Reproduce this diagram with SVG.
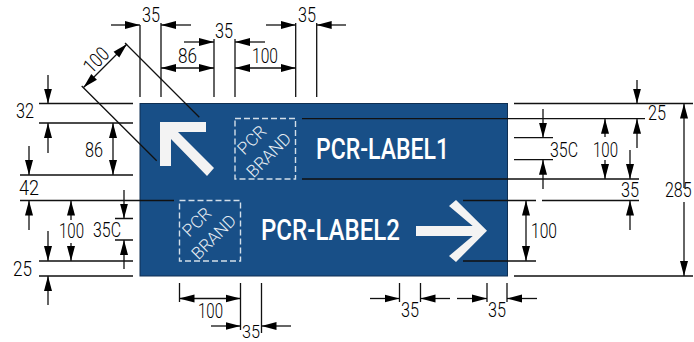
<svg xmlns="http://www.w3.org/2000/svg" width="694" height="342" viewBox="0 0 694 342">
<style>
.l{stroke:#111;stroke-width:1.3;fill:none}
.a{stroke:#111;stroke-width:1.3;fill:none;marker-end:url(#h)}
.b{stroke:#111;stroke-width:1.3;fill:none;marker-start:url(#s);marker-end:url(#h)}
.t{font-family:Roboto,"Liberation Sans",Arial,sans-serif;font-weight:300;font-size:20px;fill:#000}
.s{font-family:Roboto,"Liberation Sans",Arial,sans-serif;font-size:29px;font-weight:500;fill:#fff}
.br{font-family:Roboto,"Liberation Sans",Arial,sans-serif;font-weight:300;font-size:17px;fill:#e8eef4;text-anchor:middle}
.box{fill:none;stroke:#d3dfe9;stroke-width:1.4;stroke-dasharray:6 3}
.w{fill:#f3f3f3}
</style>
<defs>
<marker id="h" markerUnits="userSpaceOnUse" markerWidth="16" markerHeight="10" refX="15" refY="5" orient="auto"><path d="M0 1L15 5L0 9Z" fill="#000"/></marker>
<marker id="s" markerUnits="userSpaceOnUse" markerWidth="16" markerHeight="10" refX="0" refY="5" orient="auto"><path d="M15 1L0 5L15 9Z" fill="#000"/></marker>
</defs>
<g id="sign">
<rect x="140" y="103.5" width="367.5" height="172.5" fill="#184f87" stroke="#0f2f52" stroke-width="1"/>
<text class="s" x="316" y="159" textLength="133" lengthAdjust="spacingAndGlyphs">PCR-LABEL1</text>
<text class="s" x="261" y="240" textLength="139" lengthAdjust="spacingAndGlyphs">PCR-LABEL2</text>
</g>
<g id="arrow-nw"><path class="w" d="M160 122H206V132H178L214 168L207 176L171 139V166H160Z"/></g>
<g id="arrow-e"><path class="w" d="M416 226H472.700L449 206L456 200L487 230.700L456 262L449 256L472.700 236H416Z"/></g>
<g id="brand1">
<rect class="box" x="235" y="118.500" width="60.500" height="60.500"/>
<text class="br" transform="translate(256 144) rotate(-45)" textLength="33" lengthAdjust="spacingAndGlyphs">PCR</text>
<text class="br" transform="translate(273 159) rotate(-45)" textLength="55" lengthAdjust="spacingAndGlyphs">BRAND</text>
</g>
<g id="brand2">
<rect class="box" x="179.500" y="200.500" width="61" height="60.500"/>
<text class="br" transform="translate(201 226) rotate(-45)" textLength="33" lengthAdjust="spacingAndGlyphs">PCR</text>
<text class="br" transform="translate(218 241) rotate(-45)" textLength="55" lengthAdjust="spacingAndGlyphs">BRAND</text>
</g>
<g id="connectors">
<path class="l" d="M140 25V97M161 23V97M214 39V97M235 39V97M295.700 23V97M316.700 23V97"/>
<path class="a" d="M111 25H140"/><path class="a" d="M191 25H161"/>
<path class="a" d="M184 42H214"/><path class="a" d="M265 42H235"/>
<path class="b" d="M161 68H214"/><path class="b" d="M235 68H295.700"/>
<path class="a" d="M266 25H295.700"/><path class="a" d="M346 25H316.700"/>
<path class="l" d="M125 43L199.300 117.300M81.700 86L156.700 160.700"/>
<path class="b" d="M83.500 87.500L127 44"/>
<path class="l" d="M39 103.500H133M39 123H133M20 175H133M20 200.500H174M39 261H133M39 276H133M115 218.500H133M115 240H133"/>
<path class="a" d="M48 75V103.500"/><path class="a" d="M48 153V123"/>
<path class="b" d="M113 123V175"/>
<path class="a" d="M29 146V175"/><path class="a" d="M29 230V200.500"/>
<path class="a" d="M71 220V200.500"/><path class="a" d="M71 243V261"/>
<path class="a" d="M124 190V218.500"/><path class="a" d="M124 269V240"/>
<path class="a" d="M48 231V261"/><path class="a" d="M48 305V276"/>
<path class="l" d="M179.500 283V302M240.500 283V330M261.500 283V333"/>
<path class="b" d="M179.500 298.500H240.500"/>
<path class="a" d="M211 326H240.500"/><path class="a" d="M291 326H261.500"/>
<path class="l" d="M399.500 283V302M420.500 283V302M487 283V302M507 283V302"/>
<path class="a" d="M370 298.500H399.500"/><path class="a" d="M450 298.500H420.500"/>
<path class="a" d="M457 298.500H487"/><path class="a" d="M537 298.500H507"/>
<path class="l" d="M514 103.500H693M302 118.700H645M514 137.700H553M514 159.700H553M302 179H639M463 200.500H536M542 200.500H639M463 261H536M514 276H693"/>
<path class="a" d="M543 109V137.700"/><path class="a" d="M543 189V159.700"/>
<path class="a" d="M605 137V118.700"/><path class="a" d="M605 160V179"/>
<path class="a" d="M637 80V103.500"/><path class="a" d="M637 148V118.700"/>
<path class="a" d="M630 150V179"/><path class="a" d="M630 230V200.500"/>
<path class="a" d="M684 188V103.500"/><path class="a" d="M684 202V276"/>
<path class="b" d="M526 200.500V261"/>
</g>
<g id="labels">
<text class="t" x="142" y="22" textLength="18" lengthAdjust="spacingAndGlyphs">35</text>
<text class="t" x="215" y="38" textLength="18" lengthAdjust="spacingAndGlyphs">35</text>
<text class="t" x="298" y="22" textLength="18" lengthAdjust="spacingAndGlyphs">35</text>
<text class="t" x="178" y="63" textLength="19" lengthAdjust="spacingAndGlyphs">86</text>
<text class="t" x="252" y="63" textLength="26" lengthAdjust="spacingAndGlyphs">100</text>
<text class="t" text-anchor="middle" transform="translate(101 65) rotate(-45)" textLength="27" lengthAdjust="spacingAndGlyphs">100</text>
<text class="t" x="16" y="118" textLength="18" lengthAdjust="spacingAndGlyphs">32</text>
<text class="t" x="85" y="156.500" textLength="18" lengthAdjust="spacingAndGlyphs">86</text>
<text class="t" x="19" y="195" textLength="20" lengthAdjust="spacingAndGlyphs">42</text>
<text class="t" x="59" y="238" textLength="25" lengthAdjust="spacingAndGlyphs">100</text>
<text class="t" x="93" y="237" textLength="28" lengthAdjust="spacingAndGlyphs">35C</text>
<text class="t" x="13" y="276" textLength="19" lengthAdjust="spacingAndGlyphs">25</text>
<text class="t" x="198" y="318" textLength="25" lengthAdjust="spacingAndGlyphs">100</text>
<text class="t" style="font-size:18px" x="242" y="337.500" textLength="18" lengthAdjust="spacingAndGlyphs">35</text>
<text class="t" x="401" y="317" textLength="18" lengthAdjust="spacingAndGlyphs">35</text>
<text class="t" x="488" y="317" textLength="18" lengthAdjust="spacingAndGlyphs">35</text>
<text class="t" x="550" y="157" textLength="28" lengthAdjust="spacingAndGlyphs">35C</text>
<text class="t" x="593" y="156.500" textLength="25" lengthAdjust="spacingAndGlyphs">100</text>
<text class="t" x="648" y="120" textLength="18" lengthAdjust="spacingAndGlyphs">25</text>
<text class="t" x="621" y="197" textLength="18" lengthAdjust="spacingAndGlyphs">35</text>
<text class="t" transform="translate(665 197) scale(.8 1)">285</text>
<text class="t" x="531" y="238" textLength="26" lengthAdjust="spacingAndGlyphs">100</text>
</g>
</svg>
